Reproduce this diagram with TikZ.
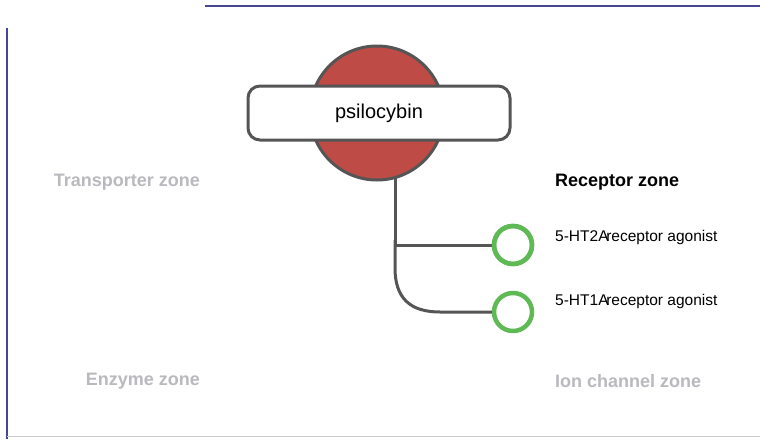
\documentclass[tikz,border=0pt]{standalone}
\usepackage{fontspec}
\setmainfont{Liberation Sans}
\usetikzlibrary{calc}
\definecolor{frameblue}{RGB}{70,70,150}
\definecolor{linegray}{RGB}{85,85,85}
\definecolor{drugred}{RGB}{190,75,70}
\definecolor{ringgreen}{RGB}{95,185,85}
\definecolor{zonegray}{RGB}{185,185,190}
\tikzset{
  x=1pt,y=-1pt,
  conn/.style={draw=linegray,line width=3pt},
  target/.style={circle,draw=ringgreen,line width=4.5pt,fill=white,minimum size=38pt,inner sep=0pt},
  zonelbl/.style={font=\fontsize{18}{20}\selectfont\bfseries,text=zonegray,inner sep=0pt},
  tgtlbl/.style={font=\fontsize{15.5}{18}\selectfont,anchor=west,inner sep=0pt,text=black},
}
\begin{document}
\begin{tikzpicture}
\useasboundingbox (0,0) rectangle (760,439);
\fill[white] (0,0) rectangle (760,439);
% frame lines
\draw[frameblue,line width=1.2pt] (205,6) -- (760,6);
\draw[frameblue,line width=1.2pt] (7,28) -- (7,439);
\draw[gray!40,line width=0.8pt] (7,436) -- (760,436);
% drug
\node[circle,fill=drugred,draw=linegray,line width=3pt,minimum size=134pt,inner sep=0pt] (drug) at (377,113) {};
\node[rectangle,rounded corners=12pt,fill=white,draw=linegray,line width=3pt,minimum width=262pt,minimum height=54pt,font=\fontsize{20}{22}\selectfont] (name) at (379,113) {psilocybin};
% targets
\node[target] (t1) at (513,245) {};
\node[target] (t2) at (513,312) {};
\coordinate (top) at (395,178);
\draw[conn] (top) -- (395,245) -- (t1.west);
\draw[conn] (395,240) -- (395,268) .. controls (395,298) and (410,312) .. (440,312) -- (t2.west);
\node[circle,draw=ringgreen,line width=4.5pt,minimum size=38pt,inner sep=0pt] at (t1) {};
% labels
\node[tgtlbl] (l1) at (555,237) {5-HT2A\hspace{-0.15em}receptor agonist};
\node[tgtlbl] (l2) at (555,301) {5-HT1A\hspace{-0.15em}receptor agonist};
\node[zonelbl,anchor=west,text=black,font=\fontsize{18}{20}\selectfont\bfseries] (rz) at (555,182) {Receptor zone};
\node[zonelbl,anchor=east] (tz) at (200,182) {Transporter zone};
\node[zonelbl,anchor=east] (ez) at (200,381) {Enzyme zone};
\node[zonelbl,anchor=west] (iz) at (555,381) {Ion channel zone};
\end{tikzpicture}
\end{document}
